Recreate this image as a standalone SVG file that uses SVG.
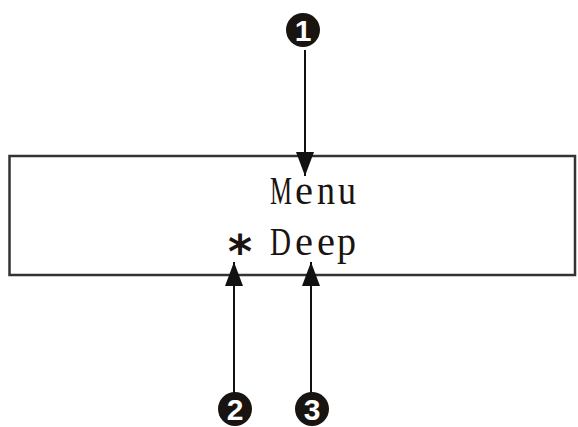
<svg xmlns="http://www.w3.org/2000/svg" width="578" height="427" viewBox="0 0 578 427">
<style>
.conn{stroke:#111;stroke-width:2;fill:none}
.lbl{font-family:"Liberation Serif","Times New Roman",serif;font-size:39px;fill:#1a1410}
.ast{font-family:"DejaVu Sans",sans-serif;font-size:46px;font-weight:bold;fill:#1a1410;text-anchor:middle}
.num{font-family:"Liberation Sans",Arial,sans-serif;font-size:30px;font-weight:bold;fill:#fff;text-anchor:middle}
</style>
<defs>
<marker id="ah" viewBox="0 0 24 18" refX="24" refY="9" markerWidth="24" markerHeight="18" markerUnits="userSpaceOnUse" orient="auto">
<path d="M0,0 L24,9 L0,18 Z" fill="#111"/>
</marker>
</defs>
<g id="display">
<rect x="9.5" y="156" width="565.5" height="119" fill="#fff" stroke="#333" stroke-width="2.5"/>
<g class="lbl">
<text x="270" y="204" textLength="22" lengthAdjust="spacingAndGlyphs">M</text>
<text x="295" y="204" textLength="18" lengthAdjust="spacingAndGlyphs">e</text>
<text x="317" y="204" textLength="18" lengthAdjust="spacingAndGlyphs">n</text>
<text x="338" y="204" textLength="18" lengthAdjust="spacingAndGlyphs">u</text>
<text x="270" y="255" textLength="21" lengthAdjust="spacingAndGlyphs">D</text>
<text x="295" y="255" textLength="18" lengthAdjust="spacingAndGlyphs">e</text>
<text x="317" y="255" textLength="18" lengthAdjust="spacingAndGlyphs">e</text>
<text x="337" y="255" textLength="19" lengthAdjust="spacingAndGlyphs">p</text>
</g>
<text class="ast" x="240" y="268">*</text>
</g>
<g id="connectors">
<line class="conn" x1="305" y1="50" x2="305" y2="176" marker-end="url(#ah)"/>
<line class="conn" x1="234" y1="394" x2="234" y2="262" marker-end="url(#ah)"/>
<line class="conn" x1="311" y1="394" x2="311" y2="262" marker-end="url(#ah)"/>
</g>
<g id="n1"><circle cx="303" cy="30" r="17" fill="#1a1410"/><text class="num" x="303" y="41">1</text></g>
<g id="n2"><circle cx="235" cy="409" r="17" fill="#1a1410"/><text class="num" x="235" y="420">2</text></g>
<g id="n3"><circle cx="312" cy="409" r="17" fill="#1a1410"/><text class="num" x="312" y="420">3</text></g>
</svg>
